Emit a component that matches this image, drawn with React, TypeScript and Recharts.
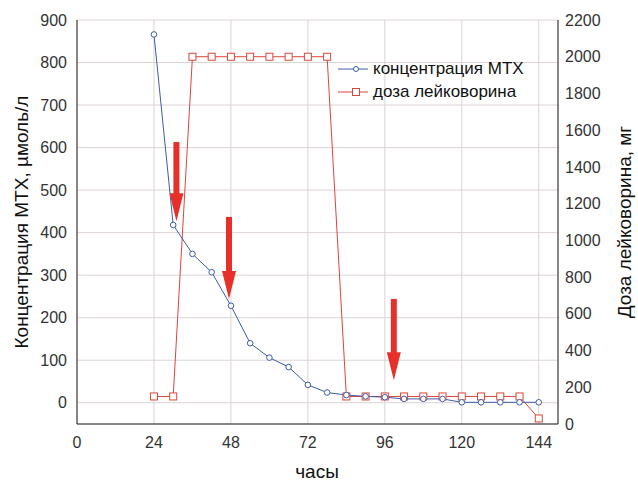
import { LineChart, Line, XAxis, YAxis, CartesianGrid, ReferenceLine } from 'recharts'

// hours after start of infusion
const hours = [24, 30, 36, 42, 48, 54, 60, 66, 72, 78, 84, 90, 96, 102, 108, 114, 120, 126, 132, 138, 144]
// MTX concentration, µmol/l
const mtxConc = [866, 418, 350, 307, 228, 140, 106, 84, 42, 24, 18, 15, 13, 9, 9, 9, 1, 1, 1, 1, 1]
// leucovorin dose, mg
const leucovorinDose = [150, 150, 2000, 2000, 2000, 2000, 2000, 2000, 2000, 2000, 150, 150, 150, 150, 150, 150, 150, 150, 150, 150, 30]

const xTicks = [0, 24, 48, 72, 96, 120, 144]
const leftTicks = [0, 100, 200, 300, 400, 500, 600, 700, 800, 900]
const rightTicks = [0, 200, 400, 600, 800, 1000, 1200, 1400, 1600, 1800, 2000, 2200]

// red arrows: hour, top and tip on the left axis
const arrowHours = [31, 47.4, 98.8]
const arrowTops = [613, 437, 244]
const arrowTips = [427, 244, 53]

const BLUE = '#3c5da8'
const RED = '#d9473a'
const ARROW = '#e8302a'
const FONT = '"Liberation Sans", Arial, sans-serif'

const data = hours.map((h, i) => ({ hour: h, mtx: mtxConc[i], dose: leucovorinDose[i] }))

const SquareDot = (props: any) => {
  const { cx, cy } = props
  if (cx == null || cy == null) return null
  return <rect x={cx - 3.5} y={cy - 3.5} width={7} height={7} fill="#fff" stroke={RED} strokeWidth={1} />
}

const CircleDot = (props: any) => {
  const { cx, cy } = props
  if (cx == null || cy == null) return null
  return <circle cx={cx} cy={cy} r={2.8} fill="#fff" stroke={BLUE} strokeWidth={1} />
}

const Arrow = (props: any) => {
  const { x1, y1, x2, y2 } = props
  if (x1 == null) return null
  const top = Math.min(y1, y2)
  const tip = Math.max(y1, y2)
  const head = 28
  return (
    <g>
      <rect x={x1 - 3} y={top} width={6} height={tip - top - head + 2} fill={ARROW} />
      <polygon points={`${x1 - 7},${tip - head} ${x1 + 7},${tip - head} ${x1},${tip}`} fill={ARROW} />
    </g>
  )
}

const LegendBox = () => (
  <div style={{ fontFamily: FONT, fontSize: 17, color: '#111', lineHeight: '23px' }}>
    <div style={{ display: 'flex', alignItems: 'center' }}>
      <svg width={34} height={12}>
        <line x1={2} y1={6} x2={32} y2={6} stroke={BLUE} strokeWidth={1} />
        <circle cx={20} cy={6} r={2.5} fill="#fff" stroke={BLUE} />
      </svg>
      <span style={{ marginLeft: 3 }}>концентрация МТХ</span>
    </div>
    <div style={{ display: 'flex', alignItems: 'center' }}>
      <svg width={34} height={12}>
        <line x1={2} y1={6} x2={32} y2={6} stroke={RED} strokeWidth={1} />
        <rect x={16.5} y={2.5} width={7} height={7} fill="#fff" stroke={RED} />
      </svg>
      <span style={{ marginLeft: 3 }}>доза лейковорина</span>
    </div>
  </div>
)

const tickStyle = { fontSize: 16, fill: '#333', fontFamily: FONT }

export default function App() {
  return (
    <div style={{ position: 'absolute', left: 0, top: 0, width: 638, height: 483, background: '#fff', fontFamily: FONT }}>
      <LineChart width={638} height={483} data={data} margin={{ top: 20, right: 0, left: 0, bottom: 0 }}>
        <CartesianGrid yAxisId="left" stroke="#ddd3d3" strokeWidth={1} />
        <XAxis
          dataKey="hour"
          type="number"
          domain={[0, 150]}
          ticks={xTicks}
          height={59}
          tickLine={false}
          tickMargin={7}
          axisLine={{ stroke: '#222' }}
          tick={tickStyle}
        />
        <XAxis
          xAxisId="top"
          orientation="top"
          dataKey="hour"
          type="number"
          domain={[0, 150]}
          height={0}
          tick={false}
          tickLine={false}
          axisLine={{ stroke: '#222' }}
        />
        <YAxis
          yAxisId="left"
          domain={[-50, 900]}
          ticks={leftTicks}
          width={77}
          tickLine={false}
          tickMargin={4}
          axisLine={{ stroke: '#222' }}
          tick={tickStyle}
        />
        <YAxis
          yAxisId="right"
          orientation="right"
          domain={[0, 2200]}
          ticks={rightTicks}
          width={80}
          tickLine={false}
          tickMargin={1}
          axisLine={{ stroke: '#222' }}
          tick={{ ...tickStyle, textAnchor: 'start' }}
        />
        <Line
          yAxisId="right"
          dataKey="dose"
          type="linear"
          stroke={RED}
          strokeWidth={1}
          dot={<SquareDot />}
          activeDot={false}
          isAnimationActive={false}
        />
        <Line
          yAxisId="left"
          dataKey="mtx"
          type="linear"
          stroke={BLUE}
          strokeWidth={1}
          dot={<CircleDot />}
          activeDot={false}
          isAnimationActive={false}
        />
        {arrowHours.map((h, i) => (
          <ReferenceLine
            key={i}
            yAxisId="left"
            segment={[{ x: h, y: arrowTops[i] }, { x: h, y: arrowTips[i] }]}
            shape={<Arrow />}
          />
        ))}
      </LineChart>
      <div style={{ position: 'absolute', left: 336, top: 57 }}>
        <LegendBox />
      </div>
      <div
        style={{
          position: 'absolute', left: 22, top: 222, transform: 'translate(-50%, -50%) rotate(-90deg)',
          whiteSpace: 'nowrap', fontSize: 19, color: '#111'
        }}
      >
        Концентрация МТХ, µмоль/л
      </div>
      <div
        style={{
          position: 'absolute', left: 625, top: 222, transform: 'translate(-50%, -50%) rotate(-90deg)',
          whiteSpace: 'nowrap', fontSize: 19, color: '#111'
        }}
      >
        Доза лейковорина, мг
      </div>
      <div
        style={{
          position: 'absolute', left: 317, top: 472, transform: 'translate(-50%, -50%)',
          whiteSpace: 'nowrap', fontSize: 19, color: '#111'
        }}
      >
        часы
      </div>
    </div>
  )
}
